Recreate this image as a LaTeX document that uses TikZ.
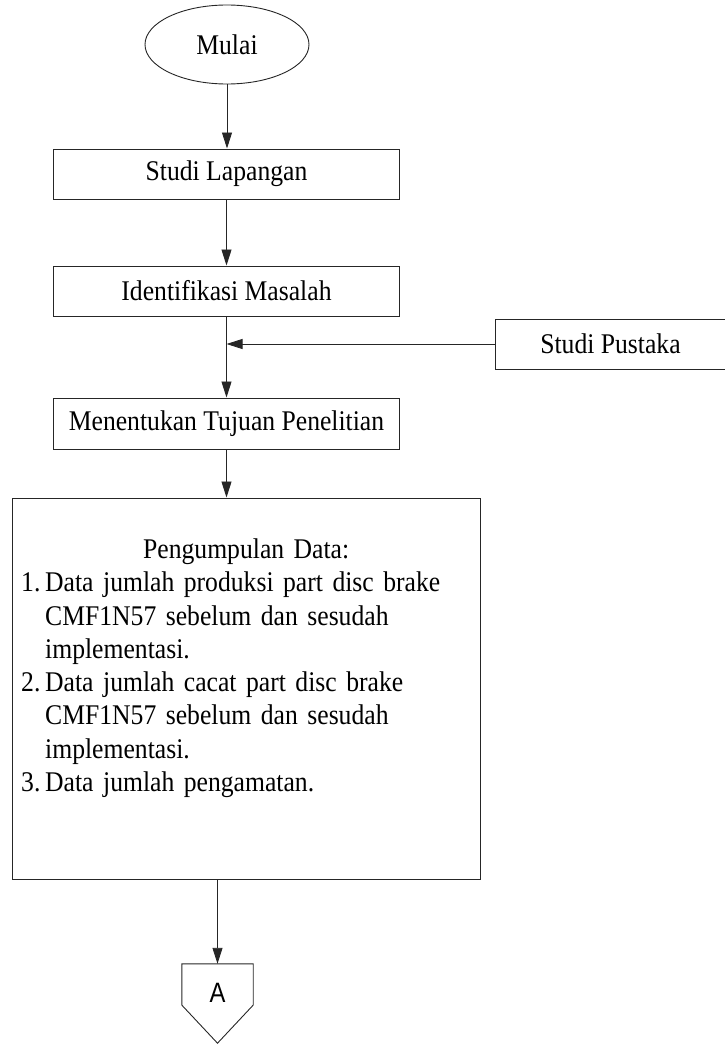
\documentclass[tikz,border=0pt]{standalone}
\usepackage{fontspec}
\setmainfont{Liberation Serif}[FakeStretch=0.9]
\newfontfamily\connfont{Liberation Sans}[FakeStretch=0.85]
\usetikzlibrary{shapes.geometric,arrows.meta,calc}

\definecolor{linec}{HTML}{262626}

\tikzset{
  chartfont/.style={font=\fontsize{28.5}{33.3}\selectfont},
  terminal/.style={ellipse, draw=linec, line width=0.9pt, minimum width=164pt,
    minimum height=79pt, inner sep=0pt, chartfont},
  box/.style={rectangle, draw=linec, line width=1pt, minimum width=346pt,
    minimum height=50pt, inner sep=0pt, chartfont},
  listtext/.style={inner sep=0pt, text width=450pt, align=left, chartfont},
  offpage/.style={rectangle, draw=none, minimum width=71pt, minimum height=79pt,
    inner sep=0pt},
  outline/.style={draw=linec, line width=0.9pt},
  flow/.style={draw=linec, line width=0.9pt, -{Triangle[length=16pt,width=10pt]}},
}

\begin{document}
\begin{tikzpicture}[x=1pt,y=-1pt]
  \useasboundingbox (0,0) rectangle (724,1044);

  % process steps
  \node[terminal] (mulai) at (227,44.5) {Mulai};
  \node[box] (lap) at (226.5,174) {Studi Lapangan};
  \node[box] (idm) at (226.5,291) {Identifikasi Masalah};
  \node[box, minimum width=231pt] (pus) at (610.5,344) {Studi Pustaka};
  \node[box, minimum height=51pt] (tuj) at (226.5,423.5) {Menentukan Tujuan Penelitian};
  \node[box, minimum width=468pt, minimum height=381pt] (data) at (246,688.5) {};
  \node[listtext, anchor=north west] (datatx) at (21,538.5) {%
    {\centering Pengumpulan Data:\par}
    \makebox[24pt][l]{1.}Data jumlah produksi part disc brake\\
    \hspace*{24pt}CMF1N57 sebelum dan sesudah\\
    \hspace*{24pt}implementasi.\\
    \makebox[24pt][l]{2.}Data jumlah cacat part disc brake\\
    \hspace*{24pt}CMF1N57 sebelum dan sesudah\\
    \hspace*{24pt}implementasi.\\
    \makebox[24pt][l]{3.}Data jumlah pengamatan.};

  % off-page connector
  \node[offpage, label={[font=\connfont\fontsize{28}{32}\selectfont, yshift=10.5pt]center:A}]
    (A) at (217.5,1003.5) {};
  \draw[outline] (A.north west) -- (A.north east)
    -- ($(A.north east)!0.52!(A.south east)$) -- (A.south)
    -- ($(A.north west)!0.52!(A.south west)$) -- cycle;

  % connectors
  \draw[flow] (mulai.south) -- (mulai.south |- lap.north);
  \draw[flow] (lap.south) -- (idm.north);
  \draw[flow] (idm.south) -- (tuj.north);
  \draw[flow] (pus.west) -- (pus.west -| idm.south);
  \draw[flow] (tuj.south) -- (tuj.south |- data.north);
  \draw[flow] (A.north |- data.south) -- (A.north);
\end{tikzpicture}
\end{document}
